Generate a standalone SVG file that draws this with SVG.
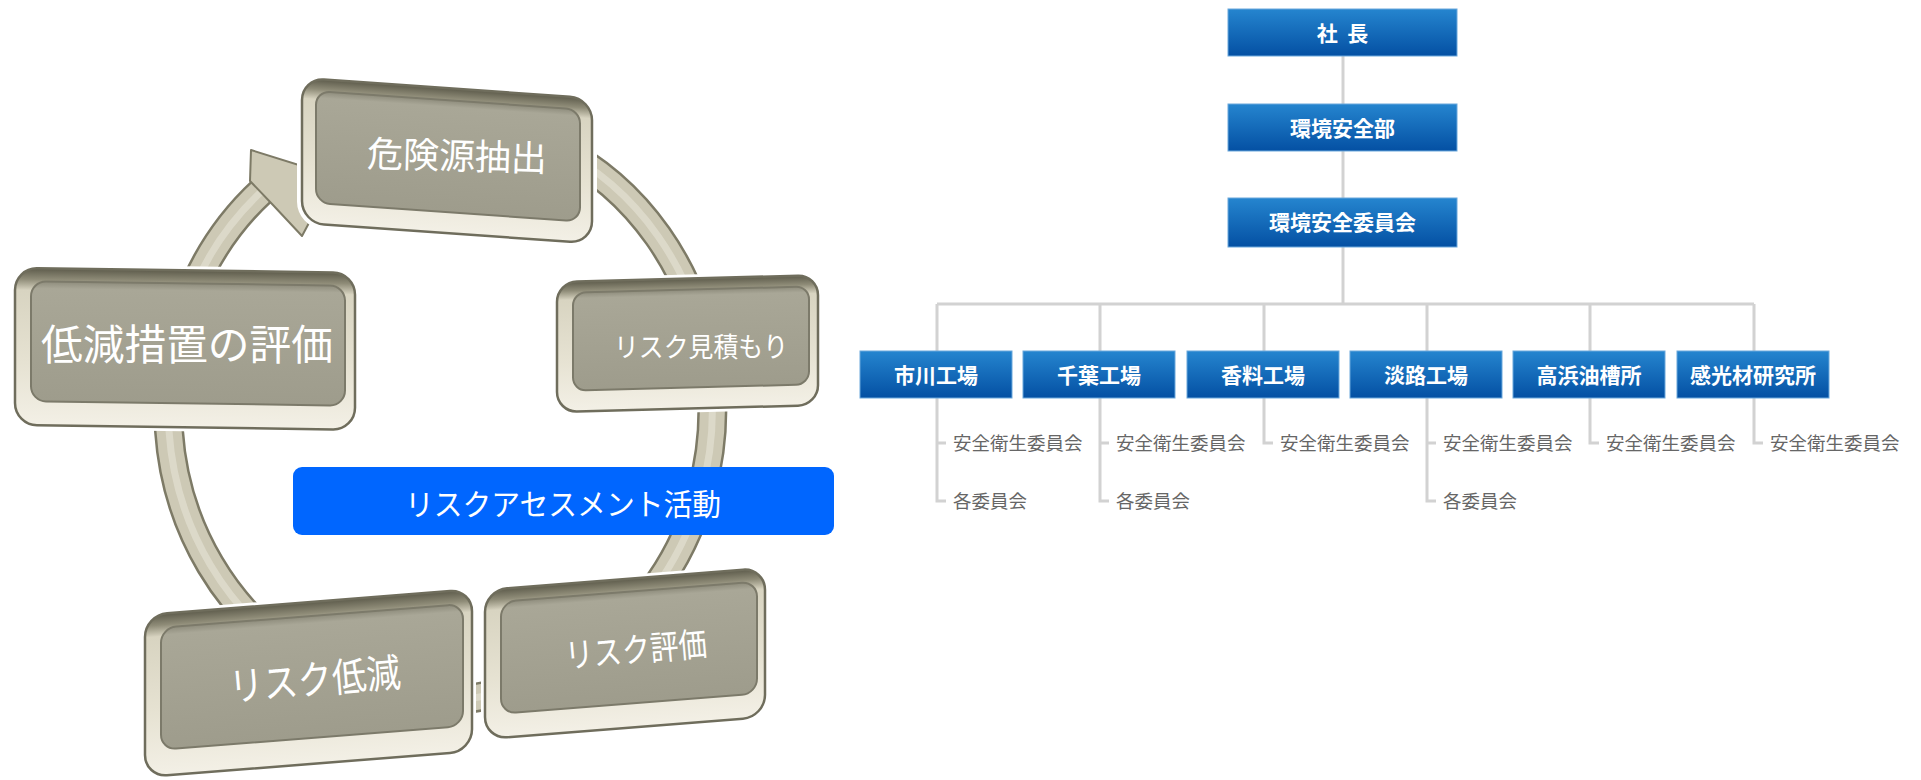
<svg xmlns="http://www.w3.org/2000/svg" width="1921" height="780" viewBox="0 0 1921 780">
<defs>
<linearGradient id="rim" x1="0" y1="0" x2="0" y2="1">
<stop offset="0" stop-color="#5e5c4c"/>
<stop offset="0.07" stop-color="#8f8c78"/>
<stop offset="0.14" stop-color="#d8d4c1"/>
<stop offset="0.6" stop-color="#e6e2d2"/>
<stop offset="1" stop-color="#f3f0e6"/>
</linearGradient>
<linearGradient id="face" x1="0" y1="0" x2="0" y2="1">
<stop offset="0" stop-color="#8e8c7c"/>
<stop offset="0.06" stop-color="#a9a797"/>
<stop offset="1" stop-color="#9e9c8c"/>
</linearGradient>
<linearGradient id="blue" x1="0" y1="0" x2="0" y2="1">
<stop offset="0" stop-color="#2585cf"/>
<stop offset="1" stop-color="#0450a3"/>
</linearGradient>
<style>
.rimr{fill:url(#rim)}
.rimo{fill:none;stroke:#6f6d5c;stroke-width:2.5}
.face{fill:url(#face);stroke:#7c7a6a;stroke-width:2}
.halo{fill:#ffffff}
.gt{font-family:"Noto Sans CJK JP","Noto Sans CJK SC",sans-serif;fill:#ffffff;font-weight:400;text-anchor:middle}
.ob{fill:url(#blue);stroke:#6aa8dc;stroke-width:1}
.ot{font-family:"Noto Sans CJK JP","Noto Sans CJK SC",sans-serif;fill:#ffffff;font-weight:700;font-size:21px;text-anchor:middle}
.st{font-family:"Noto Sans CJK JP","Noto Sans CJK SC",sans-serif;fill:#666666;font-size:18.5px}
.ln{fill:none;stroke:#d2d2d2;stroke-width:3}
.ring1{fill:none;stroke:#7d7a66;stroke-width:30}
.ring2{fill:none;stroke:#cdc9b5;stroke-width:25}
.ring3{fill:none;stroke:#e3e0d2;stroke-width:7;opacity:0.7}
</style>
</defs>
<rect width="1921" height="780" fill="#ffffff"/>

<!-- cycle ring -->
<g id="connectors-cycle">
<path class="ring1" d="M 440 120 A 272 290 0 1 1 262 191"/>
<path class="ring2" d="M 440 120 A 272 290 0 1 1 262 191"/>
<path class="ring3" d="M 440 120 A 272 290 0 1 1 262 191"/>
<polygon points="251,150 334,176 302,236 273,205 250,181" fill="#cdc9b5" stroke="#7d7a66" stroke-width="2" stroke-linejoin="round"/>
</g>

<g id="node-kiken">
<g transform="translate(302,78) skewY(4)">
<rect class="halo" x="-5" y="-5" width="300" height="155" rx="26"/>
<rect class="rimr" x="0" y="0" width="290" height="145" rx="22"/>
<rect class="rimo" x="0" y="0" width="290" height="145" rx="22"/>
<rect class="face" x="14" y="12" width="264" height="112" rx="14"/>
</g>
<text class="gt" x="457" y="169" font-size="36" textLength="180" lengthAdjust="spacingAndGlyphs" transform="rotate(1.5 457 155)">危険源抽出</text>
</g>

<g id="node-mitsumori">
<g transform="translate(557,282) skewY(-1.5)">
<rect class="halo" x="-4" y="-4" width="269" height="138" rx="24"/>
<rect class="rimr" x="0" y="0" width="261" height="130" rx="20"/>
<rect class="rimo" x="0" y="0" width="261" height="130" rx="20"/>
<rect class="face" x="16" y="11" width="236" height="98" rx="13"/>
</g>
<text class="gt" x="701" y="357" font-size="27" textLength="174" lengthAdjust="spacingAndGlyphs">リスク見積もり</text>
</g>

<g id="node-teigen-sochi">
<g transform="translate(15,268) skewY(0.8)">
<rect class="halo" x="-4" y="-4" width="348" height="165" rx="26"/>
<rect class="rimr" x="0" y="0" width="340" height="157" rx="22"/>
<rect class="rimo" x="0" y="0" width="340" height="157" rx="22"/>
<rect class="face" x="16" y="13" width="314" height="120" rx="15"/>
</g>
<text class="gt" x="187" y="360" font-size="42" textLength="292" lengthAdjust="spacingAndGlyphs">低減措置の評価</text>
</g>

<g id="node-label">
<rect x="293" y="467" width="541" height="68" rx="9" fill="#0066ff"/>
<text class="gt" x="563" y="515" font-size="30" textLength="316" lengthAdjust="spacingAndGlyphs">リスクアセスメント活動</text>
</g>

<g id="node-hyoka">
<g transform="translate(485,590) skewY(-4.5)">
<rect class="halo" x="-4" y="-4" width="288" height="157" rx="26"/>
<rect class="rimr" x="0" y="0" width="280" height="149" rx="22"/>
<rect class="rimo" x="0" y="0" width="280" height="149" rx="22"/>
<rect class="face" x="16" y="13" width="256" height="112" rx="15"/>
</g>
<text class="gt" x="636" y="662" font-size="34" textLength="142" lengthAdjust="spacingAndGlyphs" transform="rotate(-5 636 650)">リスク評価</text>
</g>

<g id="node-teigen">
<g transform="translate(145,615) skewY(-4.5)">
<rect class="halo" x="-4" y="-4" width="335" height="170" rx="26"/>
<rect class="rimr" x="0" y="0" width="327" height="162" rx="22"/>
<rect class="rimo" x="0" y="0" width="327" height="162" rx="22"/>
<rect class="face" x="16" y="14" width="302" height="122" rx="15"/>
</g>
<text class="gt" x="315" y="694" font-size="40" textLength="172" lengthAdjust="spacingAndGlyphs" transform="rotate(-5 315 680)">リスク低減</text>
</g>

<!-- org chart connectors -->
<g id="connectors">
<line class="ln" x1="1343" y1="56" x2="1343" y2="104"/>
<line class="ln" x1="1343" y1="151" x2="1343" y2="198"/>
<line class="ln" x1="1343" y1="247" x2="1343" y2="304"/>
<line class="ln" x1="937" y1="304" x2="1754" y2="304"/>
<path class="ln" d="M937 304 V501 H946 M937 443 H946"/>
<path class="ln" d="M1100 304 V501 H1109 M1100 443 H1109"/>
<path class="ln" d="M1264 304 V443 H1273"/>
<path class="ln" d="M1427 304 V501 H1436 M1427 443 H1436"/>
<path class="ln" d="M1590 304 V443 H1599"/>
<path class="ln" d="M1754 304 V443 H1763"/>
</g>

<g id="org-shacho"><rect class="ob" x="1228" y="9" width="229" height="47"/><text class="ot" x="1342.5" y="40.5" xml:space="preserve">社  長</text></g>
<g id="org-kankyo-bu"><rect class="ob" x="1228" y="104" width="229" height="47"/><text class="ot" x="1342.5" y="135.5">環境安全部</text></g>
<g id="org-kankyo-iinkai"><rect class="ob" x="1228" y="198" width="229" height="49"/><text class="ot" x="1342.5" y="230">環境安全委員会</text></g>

<g id="org-ichikawa"><rect class="ob" x="860" y="351" width="152" height="47"/><text class="ot" x="936" y="382.5">市川工場</text>
<text class="st" x="953" y="450">安全衛生委員会</text><text class="st" x="953" y="508">各委員会</text></g>
<g id="org-chiba"><rect class="ob" x="1023" y="351" width="152" height="47"/><text class="ot" x="1099" y="382.5">千葉工場</text>
<text class="st" x="1116" y="450">安全衛生委員会</text><text class="st" x="1116" y="508">各委員会</text></g>
<g id="org-koryo"><rect class="ob" x="1187" y="351" width="152" height="47"/><text class="ot" x="1263" y="382.5">香料工場</text>
<text class="st" x="1280" y="450">安全衛生委員会</text></g>
<g id="org-awaji"><rect class="ob" x="1350" y="351" width="152" height="47"/><text class="ot" x="1426" y="382.5">淡路工場</text>
<text class="st" x="1443" y="450">安全衛生委員会</text><text class="st" x="1443" y="508">各委員会</text></g>
<g id="org-takahama"><rect class="ob" x="1513" y="351" width="152" height="47"/><text class="ot" x="1589" y="382.5">高浜油槽所</text>
<text class="st" x="1606" y="450">安全衛生委員会</text></g>
<g id="org-kankozai"><rect class="ob" x="1677" y="351" width="152" height="47"/><text class="ot" x="1753" y="382.5">感光材研究所</text>
<text class="st" x="1770" y="450">安全衛生委員会</text></g>
</svg>
